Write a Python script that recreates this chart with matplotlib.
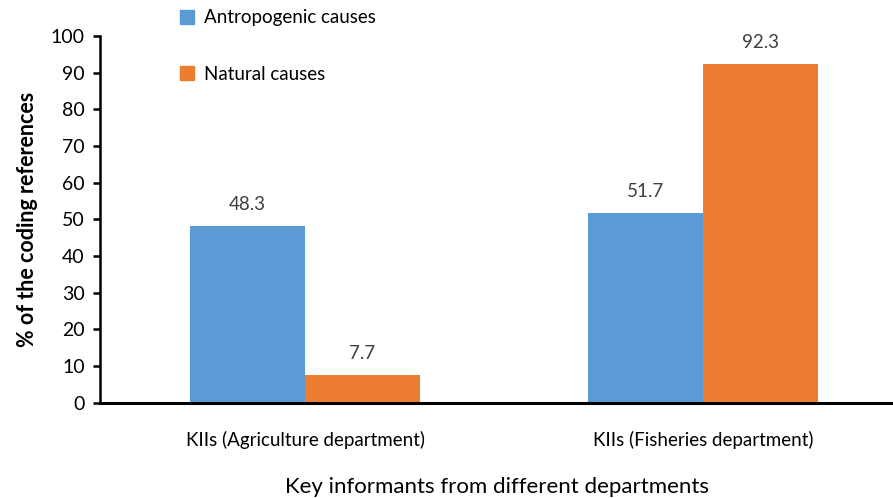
import numpy as np
import matplotlib.pyplot as plt
from matplotlib.patches import Patch

plt.rcParams['font.family'] = ['Lato', 'DejaVu Sans']

categories = ['KIIs (Agriculture department)', 'KIIs (Fisheries department)']
antropogenic = [48.3, 51.7]
natural = [7.7, 92.3]
series_names = ['Antropogenic causes', 'Natural causes']
colors = ['#5B9BD5', '#ED7D31']

fig = plt.figure(figsize=(8.93, 4.98), dpi=100)
ax = fig.add_axes([0.112, 0.191, 0.888, 0.737])

x = np.arange(len(categories))
w = 0.289
b1 = ax.bar(x - w / 2, antropogenic, w, color=colors[0])
b2 = ax.bar(x + w / 2, natural, w, color=colors[1])

for bars, vals in [(b1, antropogenic), (b2, natural)]:
    for bar, v in zip(bars, vals):
        ax.text(bar.get_x() + bar.get_width() / 2, v + 3.5, f'{v:.1f}',
                ha='center', va='bottom', fontsize=13.5, color='#404040')

ax.set_xlim(-0.515, 1.477)
ax.set_ylim(0, 100)
ax.set_yticks(range(0, 101, 10))
ax.set_xticks(x)
ax.set_xticklabels(categories, fontsize=13.5)
ax.tick_params(axis='x', length=0, pad=20)
ax.tick_params(axis='y', labelsize=14, length=5, width=1.8, direction='out', pad=6)
for s in ['top', 'right']:
    ax.spines[s].set_visible(False)
ax.spines['left'].set_linewidth(1.8)
ax.spines['bottom'].set_linewidth(2.2)

ax.set_ylabel('% of the coding references', fontsize=15.5, fontweight='bold', labelpad=9)
ax.set_xlabel('Key informants from different departments', fontsize=16, labelpad=20)

handles = [Patch(color=c) for c in colors]
fig.legend(handles, series_names, loc='upper left', bbox_to_anchor=(0.183, 1.015),
           frameon=False, fontsize=13.5, handlelength=0.75, handleheight=0.75,
           handletextpad=0.5, labelspacing=2.1)

fig.savefig('out.png', dpi=100)
